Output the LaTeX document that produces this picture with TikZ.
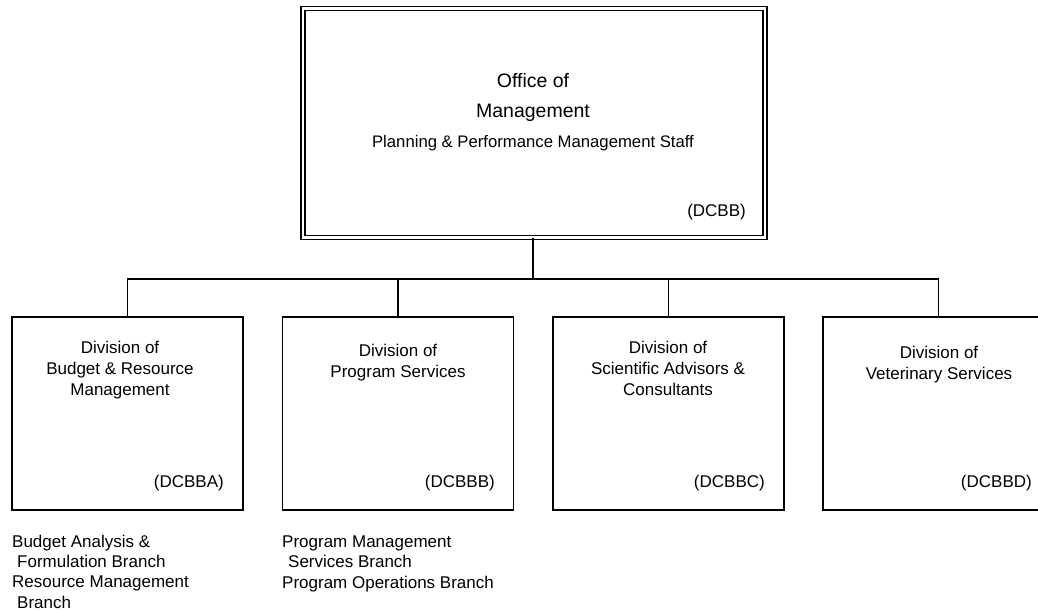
\documentclass[tikz,border=0pt]{standalone}
\usepackage{fontspec}
\setmainfont{Liberation Sans}
\usetikzlibrary{positioning}

\tikzset{
  topbox/.style={draw, double, line width=1.3pt, double distance=2.7pt, minimum width=462pt, minimum height=228.5pt, inner sep=0pt},
  divbox/.style={draw, line width=1.4pt, minimum width=231pt, minimum height=193pt, inner sep=0pt},
  divtext/.style={align=center, font=\fontsize{17}{21}\selectfont, inner sep=0pt, anchor=base},
  code/.style={font=\fontsize{17}{21}\selectfont, inner sep=0pt, anchor=base east},
  branch/.style={align=left, font=\fontsize{17}{20.3}\selectfont, inner sep=0pt, anchor=base west},
  link/.style={line width=1.3pt}
}

\begin{document}
\begin{tikzpicture}[x=1pt, y=-1pt]
    \useasboundingbox (0,0) rectangle (1038,611);
    \clip (0,0) rectangle (1038,611);
    % office box
    \node[topbox] (om) at (534,123) {};
    \node[inner sep=0pt, anchor=base, font=\fontsize{19.5}{22}\selectfont] (omtitle) at (533,87) {Office of};
    \node[inner sep=0pt, anchor=base, font=\fontsize{19.5}{22}\selectfont] (omname) at (533,117) {Management};
    \node[inner sep=0pt, anchor=base, font=\fontsize{16.7}{20}\selectfont] (omstaff) at (533,147) {Planning \& Performance Management Staff};
    \node[code] (omcode) at (746,216) {(DCBB)};
    % division boxes
    \node[divbox] (dba) at (127.5,413.5) {};
    \node[divbox] (dbb) at (398,413.5) {};
    \node[divbox] (dbc) at (668.5,413.5) {};
    \node[divbox] (dbd) at (938.5,413.5) {};
    % division names (base = last line)
    \node[divtext] (dbaname) at (120,395) {Division of\\Budget \& Resource\\Management};
    \node[divtext] (dbbname) at (398,377) {Division of\\Program Services};
    \node[divtext] (dbcname) at (668,395) {Division of\\Scientific Advisors \&\\Consultants};
    \node[divtext] (dbdname) at (939,379) {Division of\\Veterinary Services};
    % division codes
    \node[code] (dbacode) at (224,487) {(DCBBA)};
    \node[code] (dbbcode) at (495,487) {(DCBBB)};
    \node[code] (dbccode) at (765,487) {(DCBBC)};
    \node[code] (dbdcode) at (1032,487) {(DCBBD)};
    % branches
    \node[branch] (dbabr) at (12,608) {Budget Analysis \&\\\hspace*{5pt}Formulation Branch\\Resource Management\\\hspace*{5pt}Branch};
    \node[branch] (dbbbr) at (282,588) {Program Management\\\hspace*{6pt}Services Branch\\Program Operations Branch};
    % connectors
    \coordinate (bus) at (533,279);
    \draw[link] (om.south -| bus) -- (bus);
    \draw[link] (dba.north) |- (bus) -| (dbd.north);
    \draw[link] (dbb.north) -- (dbb.north |- bus);
    \draw[link] (dbc.north) -- (dbc.north |- bus);
\end{tikzpicture}
\end{document}
